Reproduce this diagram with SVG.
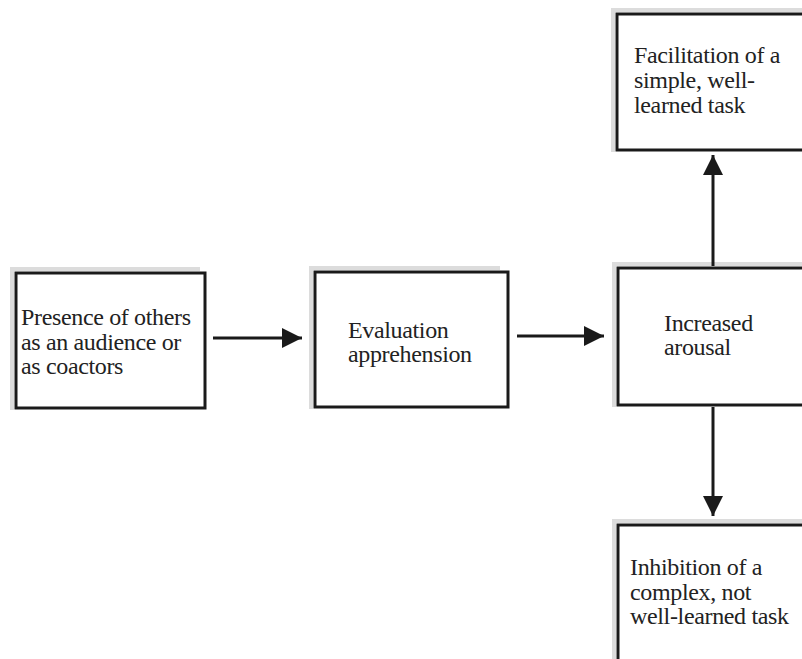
<svg xmlns="http://www.w3.org/2000/svg" width="802" height="659" viewBox="0 0 802 659">
<defs>
<style>
.box{fill:#fff;stroke:#1a1a1a;stroke-width:3}
.shadow{fill:none;stroke:#dcdcdc;stroke-width:4}
.t{font-size:24px;letter-spacing:-0.35px;fill:#222}
.c{stroke:#1a1a1a;stroke-width:3;fill:none}
</style>
<marker id="ah" viewBox="0 0 10 10" refX="10" refY="5" markerUnits="userSpaceOnUse" markerWidth="24" markerHeight="20" orient="auto">
<path d="M0,0 L10,5 L0,10 Z" fill="#1a1a1a"/>
</marker>
</defs>
<rect width="802" height="659" fill="#fff"/>
<g font-family="'Liberation Serif', 'Times New Roman', serif">
<g id="presence">
<path class="shadow" d="M12,410 V269 H200"/>
<rect class="box" x="16" y="273" width="189" height="135"/>
<text class="t" x="21" y="325">Presence of others</text>
<text class="t" x="21" y="349.5">as an audience or</text>
<text class="t" x="21" y="374">as coactors</text>
</g>
<g id="evaluation">
<path class="shadow" d="M311,409 V268 H500"/>
<rect class="box" x="315" y="272" width="193" height="135"/>
<text class="t" x="348" y="338">Evaluation</text>
<text class="t" x="348" y="362">apprehension</text>
</g>
<g id="arousal">
<path class="shadow" d="M614,407 V264 H802"/>
<rect class="box" x="618" y="268" width="200" height="137"/>
<text class="t" x="664" y="330.5">Increased</text>
<text class="t" x="664" y="355">arousal</text>
</g>
<g id="facilitation">
<path class="shadow" d="M613,152 V10 H802"/>
<rect class="box" x="617" y="14" width="200" height="136"/>
<text class="t" x="634" y="63">Facilitation of a</text>
<text class="t" x="634" y="88">simple, well-</text>
<text class="t" x="634" y="113">learned task</text>
</g>
<g id="inhibition">
<path class="shadow" d="M614,670 V521 H802"/>
<rect class="box" x="618" y="525" width="200" height="150"/>
<text class="t" x="630" y="575">Inhibition of a</text>
<text class="t" x="630" y="600">complex, not</text>
<text class="t" x="630" y="624">well-learned task</text>
</g>
</g>
<g id="connectors">
<line class="c" x1="213" y1="338" x2="302" y2="338" marker-end="url(#ah)"/>
<line class="c" x1="517" y1="336" x2="604" y2="336" marker-end="url(#ah)"/>
<line class="c" x1="713" y1="266" x2="713" y2="155" marker-end="url(#ah)"/>
<line class="c" x1="713" y1="407" x2="713" y2="516" marker-end="url(#ah)"/>
</g>
</svg>
